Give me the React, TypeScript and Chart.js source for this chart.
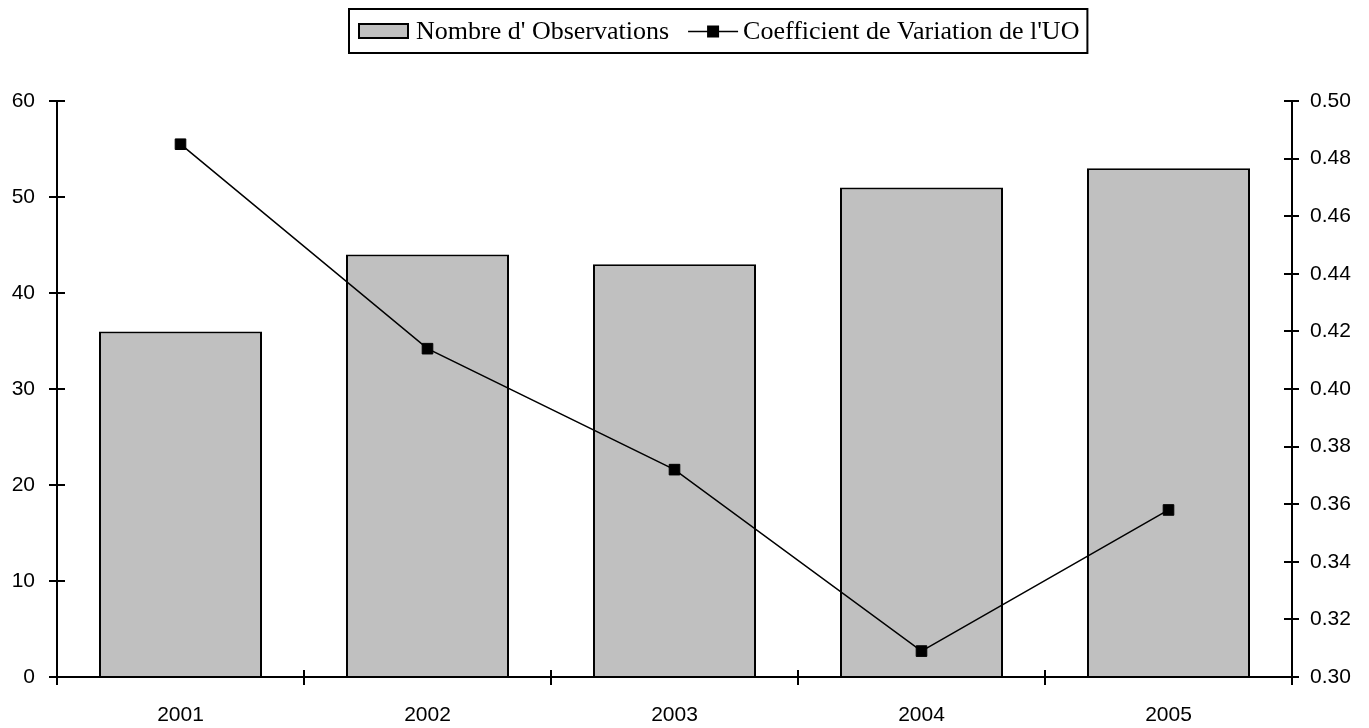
import React, { useEffect, useRef } from 'react';
import { Chart, registerables } from 'chart.js';

Chart.register(...registerables);

const categories = ['2001', '2002', '2003', '2004', '2005'];
const observations = [36, 44, 43, 51, 53];
const coefficient = [0.485, 0.414, 0.372, 0.309, 0.358];
const leftMin = 0;
const leftMax = 60;
const leftStep = 10;
const rightMin = 0.3;
const rightMax = 0.5;
const rightStep = 0.02;
const seriesLabels = ["Nombre d' Observations", "Coefficient de Variation de l'UO"];

const tickFont = { family: '"Liberation Sans", Arial, sans-serif', size: 21 };
const legendFont = '26px "Liberation Serif", "Times New Roman", serif';
const barFill = '#c0c0c0';

const axesPlugin = {
  id: 'excelAxes',
  afterDraw(chart: any) {
    const { ctx, chartArea, scales } = chart;
    const { left, right, top, bottom } = chartArea;
    const L = Math.round(left);
    const R = Math.round(right);
    const B = Math.round(bottom);
    ctx.save();
    ctx.strokeStyle = '#000';
    ctx.lineWidth = 2;
    ctx.beginPath();
    ctx.moveTo(L, top);
    ctx.lineTo(L, B + 8);
    ctx.moveTo(R, top);
    ctx.lineTo(R, B + 8);
    ctx.moveTo(L, B);
    ctx.lineTo(R, B);
    scales.y.ticks.forEach((t: any) => {
      const y = Math.round(scales.y.getPixelForValue(t.value));
      ctx.moveTo(L - 8, y);
      ctx.lineTo(L + 8, y);
    });
    scales.y1.ticks.forEach((t: any) => {
      const y = Math.round(scales.y1.getPixelForValue(t.value));
      ctx.moveTo(R - 8, y);
      ctx.lineTo(R + 7, y);
    });
    const n = categories.length;
    for (let i = 1; i < n; i++) {
      const x = Math.round(left + ((right - left) * i) / n);
      ctx.moveTo(x, B - 7);
      ctx.lineTo(x, B + 8);
    }
    ctx.stroke();
    ctx.restore();
  },
};

const legendPlugin = {
  id: 'boxedLegend',
  afterDraw(chart: any) {
    const { ctx } = chart;
    ctx.save();
    ctx.font = legendFont;
    ctx.textBaseline = 'alphabetic';
    ctx.fillStyle = '#000';
    const boxLeft = 349;
    const boxTop = 9;
    const boxH = 44;
    const midY = 31;
    let x = boxLeft + 10;
    ctx.fillStyle = barFill;
    ctx.fillRect(x, 24, 49, 14);
    ctx.strokeStyle = '#000';
    ctx.lineWidth = 2;
    ctx.strokeRect(x, 24, 49, 14);
    x += 49 + 8;
    ctx.fillStyle = '#000';
    ctx.fillText(seriesLabels[0], x, 39);
    x += ctx.measureText(seriesLabels[0]).width + 19;
    ctx.lineWidth = 1.5;
    ctx.beginPath();
    ctx.moveTo(x, midY + 0.5);
    ctx.lineTo(x + 50, midY + 0.5);
    ctx.stroke();
    ctx.fillRect(x + 19, midY - 5.5, 12, 12);
    x += 50 + 5;
    ctx.fillText(seriesLabels[1], x, 39);
    x += ctx.measureText(seriesLabels[1]).width + 8;
    ctx.lineWidth = 2;
    ctx.strokeRect(boxLeft, boxTop, x - boxLeft, boxH);
    ctx.restore();
  },
};

export default function App() {
  const ref = useRef<HTMLCanvasElement>(null);

  useEffect(() => {
    document.body.style.margin = '0';
    if (!ref.current) return;
    const chart = new Chart(ref.current, {
      type: 'bar',
      data: {
        labels: categories,
        datasets: [
          {
            type: 'bar',
            label: seriesLabels[0],
            data: observations,
            backgroundColor: barFill,
            borderColor: '#000',
            borderWidth: 2,
            yAxisID: 'y',
            order: 1,
            barPercentage: 0.66,
            categoryPercentage: 1,
          },
          {
            type: 'line',
            label: seriesLabels[1],
            data: coefficient,
            borderColor: '#000',
            borderWidth: 1.5,
            backgroundColor: '#000',
            pointStyle: 'rect',
            pointRadius: 7.5,
            pointBorderWidth: 1,
            pointBackgroundColor: '#000',
            pointBorderColor: '#000',
            tension: 0,
            yAxisID: 'y1',
            order: 0,
          },
        ] as any,
      },
      options: {
        animation: false,
        responsive: true,
        maintainAspectRatio: false,
        layout: { padding: { top: 101, left: 0, right: 0, bottom: 0 } },
        plugins: {
          legend: { display: false },
          tooltip: { enabled: false },
        },
        scales: {
          x: {
            grid: { display: false, drawTicks: false },
            border: { display: false },
            ticks: { font: tickFont, color: '#000', padding: 26, maxRotation: 0 },
            afterFit: (s: any) => {
              s.height = 51;
            },
          },
          y: {
            position: 'left',
            min: leftMin,
            max: leftMax,
            grid: { display: false, drawTicks: false },
            border: { display: false },
            ticks: { stepSize: leftStep, font: tickFont, color: '#000', padding: 22 },
            afterFit: (s: any) => {
              s.width = 57;
            },
          },
          y1: {
            position: 'right',
            min: rightMin,
            max: rightMax,
            grid: { display: false, drawTicks: false },
            border: { display: false },
            ticks: {
              stepSize: rightStep,
              font: tickFont,
              color: '#000',
              padding: 18,
              callback: (v: any) => Number(v).toFixed(2),
            },
            afterFit: (s: any) => {
              s.width = 77;
            },
          },
        },
      } as any,
      plugins: [axesPlugin, legendPlugin],
    });
    return () => chart.destroy();
  }, []);

  return (
    <div style={{ width: 1369, height: 728, position: 'relative' }}>
      <canvas ref={ref} />
    </div>
  );
}
